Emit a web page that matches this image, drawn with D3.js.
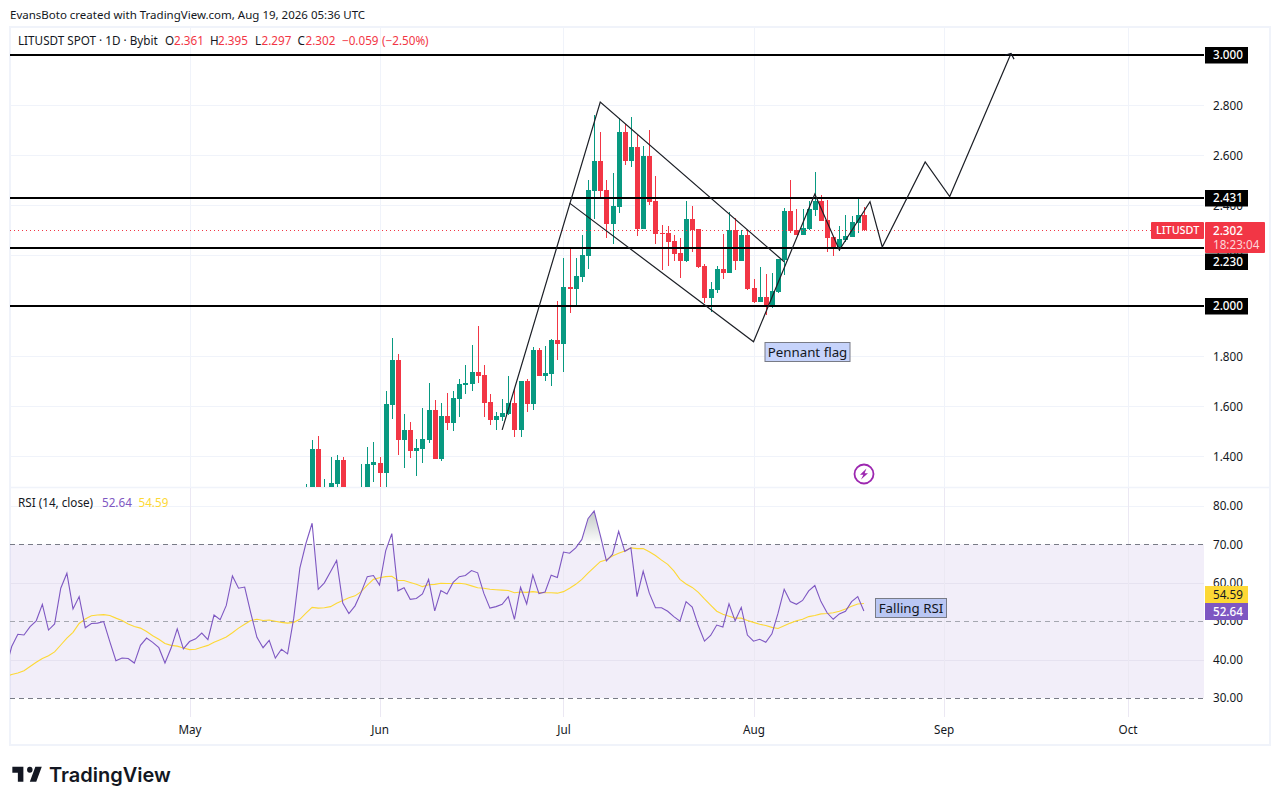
<!DOCTYPE html>
<html><head><meta charset="utf-8">
<script src="https://cdn.jsdelivr.net/npm/d3@7/dist/d3.min.js"></script>
<style>html,body{margin:0;padding:0;background:#fff}svg{display:block}text{font-family:"Noto Sans",sans-serif;font-size:11.7px;fill:#131722}</style>
</head><body><svg id="c" width="1280" height="805"></svg>
<script>
// ---- candles, May 20 -> Aug 19 (one per day)
const candleStart = "2026-05-20";
const openMay=[1.20,1.25,1.427,1.20,1.26,1.289,1.384,1.24,1.19,1.18,1.26,1.364];
const highMay=[1.288,1.463,1.479,1.308,1.395,1.403,1.395,1.27,1.26,1.368,1.435,1.455];
const lowMay=[1.16,1.22,1.22,1.17,1.23,1.27,1.21,1.16,1.14,1.15,1.22,1.297];
const closeMay=[1.25,1.427,1.26,1.26,1.292,1.384,1.24,1.19,1.22,1.26,1.368,1.376];
const openJun=[1.374,1.332,1.603,1.783,1.463,1.503,1.419,1.427,1.463,1.583,1.388,1.559,1.531,1.627,1.683,1.687,1.735,1.723,1.615,1.543,1.555,1.567,1.611,1.503,1.699,1.607,1.822,1.719,1.727,1.862];
const highJun=[1.395,1.659,1.870,1.807,1.567,1.535,1.467,1.591,1.691,1.623,1.611,1.651,1.659,1.707,1.763,1.842,1.918,1.763,1.647,1.575,1.627,1.719,1.667,1.699,1.707,1.834,1.830,1.838,1.866,2.018];
const lowJun=[1.25,1.25,1.547,1.403,1.352,1.392,1.320,1.372,1.451,1.388,1.380,1.503,1.499,1.555,1.647,1.659,1.691,1.555,1.523,1.503,1.539,1.563,1.475,1.475,1.575,1.583,1.719,1.699,1.679,1.783];
const closeJun=[1.332,1.607,1.783,1.463,1.503,1.419,1.431,1.467,1.583,1.388,1.559,1.531,1.631,1.687,1.691,1.735,1.719,1.611,1.543,1.559,1.571,1.611,1.503,1.699,1.607,1.822,1.719,1.731,1.862,1.846];
const openJul=[1.846,2.074,2.066,2.114,2.198,2.457,2.577,2.461,2.325,2.393,2.692,2.577,2.633,2.305,2.597,2.417,2.289,2.289,2.257,2.210,2.178,2.345,2.305,2.158,2.030,2.062,2.146,2.130,2.301,2.178,2.281];
const highJul=[2.190,2.226,2.190,2.281,2.501,2.760,2.692,2.501,2.529,2.748,2.724,2.752,2.680,2.637,2.700,2.517,2.321,2.317,2.281,2.269,2.417,2.397,2.305,2.166,2.094,2.158,2.285,2.373,2.349,2.301,2.301];
const lowJul=[1.735,1.970,2.002,2.094,2.146,2.345,2.433,2.269,2.245,2.369,2.561,2.553,2.277,2.305,2.401,2.245,2.142,2.158,2.178,2.110,2.174,2.214,2.150,2.010,1.974,2.050,2.106,2.130,2.142,2.178,2.062];
const closeJul=[2.074,2.066,2.118,2.202,2.461,2.577,2.457,2.325,2.397,2.692,2.577,2.633,2.305,2.597,2.413,2.285,2.285,2.253,2.206,2.178,2.345,2.301,2.154,2.030,2.066,2.146,2.130,2.301,2.178,2.281,2.066];
const openAug=[2.070,2.014,2.034,2.002,2.054,2.182,2.377,2.301,2.281,2.305,2.381,2.417,2.341,2.273,2.233,2.261,2.273,2.329,2.361];
const highAug=[2.106,2.154,2.126,2.130,2.186,2.389,2.501,2.385,2.385,2.417,2.533,2.441,2.421,2.273,2.317,2.361,2.357,2.425,2.395];
const lowAug=[2.010,2.014,1.962,1.990,2.050,2.122,2.289,2.281,2.281,2.301,2.357,2.337,2.214,2.198,2.218,2.253,2.273,2.289,2.297];
const closeAug=[2.014,2.034,2.002,2.058,2.186,2.377,2.297,2.281,2.309,2.385,2.417,2.337,2.269,2.233,2.265,2.277,2.333,2.361,2.302];
// ---- RSI(14) and its moving average, Apr 1 -> Aug 19
const rsiStart = "2026-04-01";
const rsiApr=[37.4,43.4,46.6,46.4,48.6,50.1,54.4,47.7,49.3,58.6,62.5,53.2,56.4,48.3,49.4,49.5,49.9,44.7,39.7,40.4,40.3,39.1,43.7,45.6,44.5,43.1,39.1,43.0,48.0,42.8];
const rsiMay=[44.7,45.4,46.9,45.2,51.6,50.4,54.1,61.8,58.6,58.9,52.1,45.8,43.1,45.0,40.4,42.7,41.5,50.8,63.8,70.3,75.5,58.3,60.0,62.9,65.8,54.7,52.0,54.0,57.5,61.6,61.9];
const rsiJun=[59.4,68.3,72.8,57.9,58.7,55.7,55.9,57.1,60.9,52.7,58.0,57.1,60.1,61.6,61.9,63.2,62.6,57.3,53.4,53.8,54.4,56.4,50.5,58.8,54.5,62.0,57.2,57.6,62.0,61.4];
const rsiJul=[68.0,67.7,69.1,71.3,76.7,78.7,72.4,65.7,67.4,73.4,68.2,69.1,56.4,63.0,57.3,53.5,53.5,52.6,51.2,50.0,55.1,53.7,48.8,44.8,46.3,49.0,48.5,54.5,50.1,53.6,46.4];
const rsiAug=[44.8,45.3,44.5,46.7,52.1,58.3,55.1,54.4,55.4,57.9,59.3,55.1,52.2,50.5,51.9,52.6,55.1,56.4,52.64];
const maApr=[35.6,36.1,36.5,37.1,38.2,39.3,40.3,41.0,42.0,43.8,45.6,47.1,49.4,50.6,51.4,51.6,51.7,51.5,50.8,50.2,49.3,48.6,48.2,47.3,46.2,45.3,44.2,43.7,43.5,43.0];
const maMay=[42.6,42.7,43.2,43.7,44.5,45.2,45.9,47.0,48.2,49.2,50.2,50.5,50.2,50.3,50.0,49.7,49.5,49.7,50.5,52.1,53.6,53.4,53.5,53.8,54.7,55.4,56.1,56.6,57.7,59.4,60.9];
const maJun=[61.3,61.6,61.7,60.6,60.6,60.1,59.6,59.0,59.5,59.6,59.9,59.8,59.8,59.9,59.7,59.2,58.7,58.6,58.3,58.2,58.1,58.0,57.4,57.6,57.5,57.7,57.5,57.4,57.4,57.3];
const maJul=[57.7,58.6,59.6,60.9,62.5,64.0,65.5,66.0,67.0,67.7,68.3,69.1,68.9,68.9,68.1,67.1,65.9,64.8,63.1,60.9,59.7,58.8,57.5,55.8,54.2,52.6,51.8,51.3,50.8,50.8,50.2];
const maAug=[49.7,49.2,48.9,48.4,48.1,48.8,49.5,50.1,50.5,51.2,51.5,51.9,52.0,52.2,52.6,53.2,53.9,54.5,54.59];
// ---- axes and levels
const priceTicks=[3.0,2.8,2.6,2.4,2.2,2.0,1.8,1.6,1.4];
const rsiTicks=[80,70,60,50,40,30];
const rsiGrid=[80,60,40];
const monthTicks=["2026-05-01","2026-06-01","2026-07-01","2026-08-01","2026-09-01","2026-10-01"];
const monthLabels=["May","Jun","Jul","Aug","Sep","Oct"];
const keyLevels=[3.000,2.431,2.230,2.000];
const lastPrice=2.302;
// ---- hand drawings (date, price)
const upperDates=["2026-06-21","2026-07-07","2026-08-06"];
const upperPrices=[1.504,2.812,2.175];
const lowerDates=["2026-07-02","2026-08-01","2026-08-11","2026-08-15","2026-08-20","2026-08-22","2026-08-29","2026-09-02","2026-09-12"];
const lowerPrices=[2.409,1.856,2.445,2.222,2.415,2.234,2.573,2.435,3.006];

const date=s=>new Date(s+"T00:00:00Z");
const DAY=864e5;
const dayAt=(s,i)=>new Date(date(s).getTime()+i*DAY);

const L=10,R=1204,mainTop=28,mainBottom=487,rsiBottom=717;
const x=d3.scaleUtc().domain([date("2026-05-01"),date("2026-10-01")]).range([189.5,1127.5]);
const yP=d3.scaleLinear().domain([3,1.4]).range([55,456]);
const yR=d3.scaleLinear().domain([80,30]).range([506,698]);

const svg=d3.select("#c");
const defs=svg.append("defs");
defs.append("clipPath").attr("id","mainClip").append("rect").attr("x",L).attr("y",mainTop).attr("width",R-L).attr("height",mainBottom-mainTop);
defs.append("clipPath").attr("id","rsiClip").append("rect").attr("x",L).attr("y",mainBottom+1).attr("width",R-L).attr("height",rsiBottom-mainBottom-1);
const grad=defs.append("linearGradient").attr("id","ob").attr("x1",0).attr("x2",0).attr("y1",0).attr("y2",1);
grad.append("stop").attr("offset",0).attr("stop-color","#c2c9c6");
grad.append("stop").attr("offset",1).attr("stop-color","#c2c9c6").attr("stop-opacity",0);
const arrow=defs.append("marker").attr("id","arrowHead").attr("markerUnits","userSpaceOnUse").attr("orient","auto").attr("markerWidth",14).attr("markerHeight",14).attr("refX",7).attr("refY",7).attr("viewBox","0 0 14 14");
arrow.append("path").attr("d","M3,2 L7,7 L3,12").attr("fill","none").attr("stroke","#131722").attr("stroke-width",1.2);

// frame
svg.append("rect").attr("x",10).attr("y",27).attr("width",1260).attr("height",718).attr("fill","#fff").attr("stroke","#f0f3fa").attr("stroke-width",2);
svg.append("line").attr("x1",10).attr("x2",1270).attr("y1",487.5).attr("y2",487.5).attr("stroke","#f0f3fa").attr("stroke-width",1.5);

// grid
const gridColor="#f0f3fa";
const gM=svg.append("g").attr("clip-path","url(#mainClip)");
const gR=svg.append("g").attr("clip-path","url(#rsiClip)");
gR.append("rect").attr("x",L).attr("width",R-L).attr("y",yR(70)).attr("height",yR(30)-yR(70)).attr("fill","#7e57c2").attr("fill-opacity",0.1);
gM.selectAll("line.g").data(priceTicks).join("line").attr("x1",L).attr("x2",R).attr("y1",d=>Math.round(yP(d))+.5).attr("y2",d=>Math.round(yP(d))+.5).attr("stroke",gridColor);
gR.selectAll("line.g").data(rsiGrid).join("line").attr("x1",L).attr("x2",R).attr("y1",d=>Math.round(yR(d))+.5).attr("y2",d=>Math.round(yR(d))+.5).attr("stroke",d=>d===80?gridColor:"#e6e2f0");
for(const g of [gM,gR]){
  g.selectAll("line.v").data(monthTicks).join("line").attr("class","v").attr("x1",d=>Math.round(x(date(d)))+.5).attr("x2",d=>Math.round(x(date(d)))+.5).attr("y1",mainTop).attr("y2",rsiBottom).attr("stroke",g===gM?gridColor:"#ebe8f3");
}

// RSI
const rsiSeries=[...rsiApr,...rsiMay,...rsiJun,...rsiJul,...rsiAug].map((v,i)=>({d:dayAt(rsiStart,i),v}));
const maSeries=[...maApr,...maMay,...maJun,...maJul,...maAug].map((v,i)=>({d:dayAt(rsiStart,i),v}));
const obPeak=rsiSeries.filter(p=>p.d>=date("2026-07-03")&&p.d<=date("2026-07-08"));
gR.append("path").datum(obPeak).attr("fill","url(#ob)")
  .attr("d",d3.area().x(p=>x(p.d)).y0(yR(70)).y1(p=>Math.min(yR(p.v),yR(70))));
[[70,"#787b86"],[50,"#a5a7b0"],[30,"#787b86"]].forEach(([lv,col])=>{
  gR.append("line").attr("x1",L).attr("x2",R).attr("y1",Math.round(yR(lv))+.5).attr("y2",Math.round(yR(lv))+.5).attr("stroke",col).attr("stroke-dasharray","5 4");
});
const lineRsi=d3.line().x(p=>x(p.d)).y(p=>yR(p.v));
gR.append("path").datum(maSeries).attr("d",lineRsi).attr("fill","none").attr("stroke","#fdd835").attr("stroke-width",1.1);
gR.append("path").datum(rsiSeries).attr("d",lineRsi).attr("fill","none").attr("stroke","#7e57c2").attr("stroke-width",1.1);

// candles
const opens=[...openMay,...openJun,...openJul,...openAug];
const highs=[...highMay,...highJun,...highJul,...highAug];
const lows=[...lowMay,...lowJun,...lowJul,...lowAug];
const closes=[...closeMay,...closeJun,...closeJul,...closeAug];
const candles=opens.map((o,i)=>({d:dayAt(candleStart,i),o,h:highs[i],l:lows[i],c:closes[i]}));
const up="#089981",dn="#f23645";
const cg=gM.append("g").attr("shape-rendering","crispEdges");
cg.selectAll("rect.w").data(candles).join("rect").attr("class","w")
  .attr("x",c=>Math.round(x(c.d))).attr("width",1).attr("y",c=>yP(c.h)).attr("height",c=>yP(c.l)-yP(c.h))
  .attr("fill",c=>c.c>=c.o?up:dn);
cg.selectAll("rect.b").data(candles).join("rect").attr("class","b")
  .attr("x",c=>Math.round(x(c.d))-2).attr("width",5)
  .attr("y",c=>yP(Math.max(c.o,c.c))).attr("height",c=>Math.max(1,Math.abs(yP(c.o)-yP(c.c))))
  .attr("fill",c=>c.c>=c.o?up:dn);

// last-price line
gM.append("line").attr("x1",L).attr("x2",R).attr("y1",Math.round(yP(lastPrice))+.5).attr("y2",Math.round(yP(lastPrice))+.5).attr("stroke",dn).attr("stroke-dasharray","1 3");

// key levels
gM.selectAll("line.k").data(keyLevels).join("line").attr("class","k").attr("x1",L).attr("x2",R).attr("y1",d=>Math.round(yP(d))).attr("y2",d=>Math.round(yP(d))).attr("stroke","#000").attr("stroke-width",2);

// drawings
const drawLine=d3.line().x(p=>x(date(p[0]))).y(p=>yP(p[1]));
gM.append("path").attr("d",drawLine(d3.zip(upperDates,upperPrices))).attr("fill","none").attr("stroke","#1c1f26").attr("stroke-width",1.2);
gM.append("path").attr("d",drawLine(d3.zip(lowerDates,lowerPrices))).attr("fill","none").attr("stroke","#1c1f26").attr("stroke-width",1.2).attr("marker-end","url(#arrowHead)");

// text boxes
function noteBox(cx,y0,w,h,txt,fill){
  const g=svg.append("g");
  g.append("rect").attr("x",cx-w/2+.5).attr("y",y0+.5).attr("width",w-1).attr("height",h-1).attr("fill",fill).attr("stroke","#787b86");
  g.append("text").attr("x",cx).attr("y",y0+h/2).attr("dy","0.35em").attr("text-anchor","middle").style("font-size","13.3px").text(txt);
}
noteBox(807.5,342,86,20,"Pennant flag","#c6d3fb");
noteBox(911,598,72,20,"Falling RSI","#b9c6f3");

// price axis
const axisP=d3.axisRight(yP).tickValues(priceTicks).tickSize(0).tickPadding(0).tickFormat(d3.format(".3f"));
const aP=svg.append("g").attr("transform","translate(1213,0.7)").call(axisP);
aP.select(".domain").remove();
aP.selectAll("text").style("font-size","11.7px").attr("fill","#131722");
const axisR=d3.axisRight(yR).tickValues(rsiTicks).tickSize(0).tickPadding(0).tickFormat(d3.format(".2f"));
const aR=svg.append("g").attr("transform","translate(1213,0)").call(axisR);
aR.select(".domain").remove();
aR.selectAll("text").style("font-size","11.7px").attr("fill","#131722");
const axisT=d3.axisBottom(x).tickValues(monthTicks.map(date)).tickSize(0).tickPadding(0).tickFormat((d,i)=>monthLabels[i]);
const aT=svg.append("g").attr("transform","translate(0,726)").call(axisT);
aT.select(".domain").remove();
aT.selectAll("text").style("font-size","11.7px").attr("fill","#131722");

// axis tags
function tag(x0,y0,w,h,bg,txt,col,tx,weight,size){
  svg.append("rect").attr("x",x0).attr("y",y0).attr("width",w).attr("height",h).attr("fill",bg).attr("rx",bg===dn?1:0);
  if(txt) svg.append("text").attr("x",tx).attr("y",y0+h/2).attr("dy","0.35em").style("fill",col).style("font-size",(size||11.7)+"px").style("font-weight",weight||400).text(txt);
}
tag(1151,222,53,17,dn,"LITUSDT","#fff",1156,500,10.8);
tag(1205,222,60,31,dn,null);
svg.append("text").attr("x",1213).attr("y",231).attr("dy","0.35em").style("fill","#fff").style("font-weight",500).text(d3.format(".3f")(lastPrice));
svg.append("text").attr("x",1213).attr("y",244.5).attr("dy","0.35em").style("fill","#fdd5d9").text("18:23:04");
keyLevels.forEach(v=>{
  const c=Math.round(yP(v))+(v===2.230?13.5:0);
  tag(1205,c-8,43,16.5,"#000",d3.format(".3f")(v),"#fff",1213,500);
});
tag(1205,586,43,17,"#fdd835",d3.format(".2f")(maAug[maAug.length-1]),"#131722",1213);
tag(1205,603,43,17,"#7e57c2",d3.format(".2f")(rsiAug[rsiAug.length-1]),"#fff",1213,500);

// legends
svg.append("text").attr("x",10).attr("y",15).attr("dy","0.35em").style("font-size","11.5px").text("EvansBoto created with TradingView.com, Aug 19, 2026 05:36 UTC");
const legend=svg.append("g");
const seg=(t,c,px)=>legend.append("text").attr("x",px).attr("y",41).attr("dy","0.35em").style("fill",c).text(t);
seg("LITUSDT SPOT · 1D · Bybit","#131722",18);
seg("O","#131722",165);seg("2.361",dn,174);
seg("H","#131722",210);seg("2.395",dn,218);
seg("L","#131722",255);seg("2.297",dn,261.5);
seg("C","#131722",297.5);seg("2.302",dn,305.5);
seg("−0.059",dn,342);seg("(−2.50%)",dn,382);
const rl=svg.append("g");
const rseg=(t,c,px)=>rl.append("text").attr("x",px).attr("y",503).attr("dy","0.35em").style("fill",c).text(t);
rseg("RSI (14, close)","#131722",18);
rseg(d3.format(".2f")(rsiAug[rsiAug.length-1]),"#7e57c2",102);
rseg(d3.format(".2f")(maAug[maAug.length-1]),"#fdd835",138.5);

// lightning mark
const bolt=svg.append("g").attr("transform","translate(864,474)");
bolt.append("circle").attr("r",9.5).attr("fill","#fff").attr("stroke","#9c27b0").attr("stroke-width",1.8);
bolt.append("path").attr("d","M2.5,-5.5 L-4,0.8 L-0.6,0.8 L-3,5.5 L4,-0.8 L0.6,-0.8 Z").attr("fill","#9c27b0");

// logo
svg.append("path").attr("transform","translate(10.5,760.7) scale(0.92,1)").attr("fill","#131722")
  .attr("d","M14 6H2v6h6v9h6V6Zm14 15h-7l6-15h7l-6 15Zm-7-9a3 3 0 1 0 0-6 3 3 0 0 0 0 6Z");
svg.append("text").attr("x",49).attr("y",775).attr("dy","0.35em").style("font-family","Inter,sans-serif").style("font-size","20px").style("font-weight",600).text("TradingView");
</script></body></html>
